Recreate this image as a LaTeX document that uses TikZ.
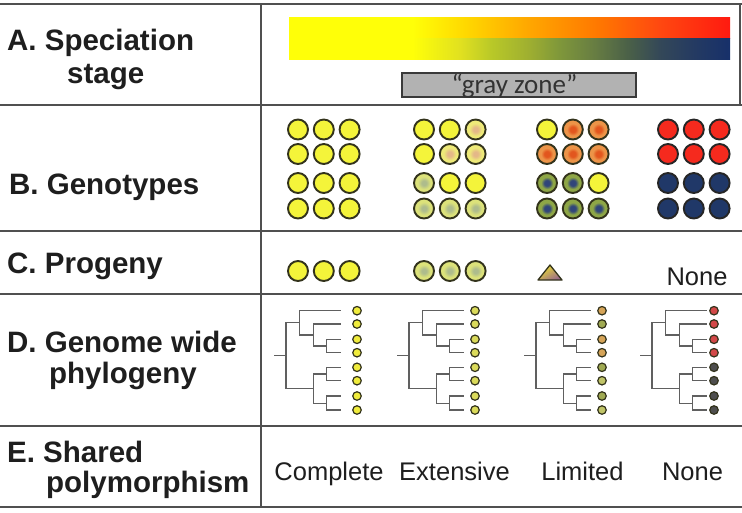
\documentclass[tikz,border=0pt]{standalone}
\usepackage{fontspec}
\setmainfont{Liberation Sans}
\newfontfamily\gzfont{Carlito}
\definecolor{gridc}{HTML}{505050}
\definecolor{txt}{HTML}{1E1E1E}
\definecolor{yel}{HTML}{F4F43A}
\definecolor{barY}{HTML}{FFFF08}
\definecolor{olv}{HTML}{33331C}
\definecolor{redc}{HTML}{F52A1E}
\definecolor{navy}{HTML}{203868}
\definecolor{orR}{HTML}{EC9448}
\definecolor{orC}{HTML}{E2561E}
\definecolor{grR}{HTML}{8EA646}
\definecolor{grC}{HTML}{30457A}
\definecolor{poR}{HTML}{EEEA78}
\definecolor{poC}{HTML}{E4B888}
\definecolor{pgR}{HTML}{DCE27A}
\definecolor{pgC}{HTML}{AEBC8C}
\definecolor{treec}{HTML}{606060}
\definecolor{gzfill}{HTML}{B2B2B2}
\definecolor{gzdraw}{HTML}{3A3A3A}
\definecolor{triY}{HTML}{ECE030}
\definecolor{triM}{HTML}{9A6A8C}
% bar colours
\definecolor{bt1}{HTML}{FFD800}
\definecolor{bt2}{HTML}{FFA800}
\definecolor{bt3}{HTML}{FF7800}
\definecolor{bt4}{HTML}{FF4810}
\definecolor{bt5}{HTML}{FF1A10}
\definecolor{bb1}{HTML}{E0E020}
\definecolor{bb2}{HTML}{B8C828}
\definecolor{bb3}{HTML}{A0B030}
\definecolor{bb4}{HTML}{80983A}
\definecolor{bb5}{HTML}{687E42}
\definecolor{bb6}{HTML}{4A6048}
\definecolor{bb7}{HTML}{344858}
\definecolor{bb8}{HTML}{243A62}
\definecolor{bb9}{HTML}{17306A}
% tree leaf colours
\definecolor{lY}{HTML}{F0EC3C}
\definecolor{lP}{HTML}{DADA5A}
\definecolor{lO}{HTML}{D6A458}
\definecolor{lG}{HTML}{A0AA52}
\definecolor{lL}{HTML}{C0C468}
\definecolor{lR}{HTML}{D24848}
\definecolor{lK}{HTML}{4E4E4E}
\pgfdeclarehorizontalshading{barTop}{100bp}{color(0bp)=(barY); color(39bp)=(barY); color(45bp)=(bt1); color(52bp)=(bt2); color(60bp)=(bt3); color(67bp)=(bt4); color(75bp)=(bt5); color(100bp)=(bt5)}
\pgfdeclarehorizontalshading{barBot}{100bp}{color(0bp)=(barY); color(39bp)=(barY); color(44.5bp)=(bb1); color(48bp)=(bb2); color(52bp)=(bb3); color(55.5bp)=(bb4); color(59.5bp)=(bb5); color(63.5bp)=(bb6); color(67bp)=(bb7); color(71bp)=(bb8); color(75bp)=(bb9); color(100bp)=(bb9)}
\pgfdeclareradialshading{dotOR}{\pgfpointorigin}{color(0bp)=(orC); color(7bp)=(orC); color(15bp)=(orR); color(50bp)=(orR)}
\pgfdeclareradialshading{dotGR}{\pgfpointorigin}{color(0bp)=(grC); color(7bp)=(grC); color(15bp)=(grR); color(50bp)=(grR)}
\pgfdeclareradialshading{dotPO}{\pgfpointorigin}{color(0bp)=(poC); color(6bp)=(poC); color(16bp)=(poR); color(50bp)=(poR)}
\pgfdeclareradialshading{dotPG}{\pgfpointorigin}{color(0bp)=(pgC); color(6bp)=(pgC); color(16bp)=(pgR); color(50bp)=(pgR)}
\tikzset{
  gridline/.style={line width=2pt, draw=gridc},
  lab/.style={font=\bfseries\fontsize{29.5}{31}\selectfont, text=txt, inner sep=0pt, anchor=base west},
  val/.style={font=\fontsize{25.5}{27}\selectfont, text=txt, inner sep=0pt, anchor=base},
  geno/.style={circle, minimum size=20pt, inner sep=0pt, line width=1.9pt, draw=olv},
  gY/.style={fill=yel},
  gRD/.style={fill=redc, draw=black!85},
  gNV/.style={fill=navy, draw=black!85},
  gOR/.style={shade, shading=dotOR},
  gGR/.style={shade, shading=dotGR},
  gPO/.style={shade, shading=dotPO},
  gPG/.style={shade, shading=dotPG},
  treeline/.style={line width=1.5pt, draw=treec, line cap=rect},
  leaf/.style={circle, minimum size=8.5pt, inner sep=0pt, line width=1.2pt, draw=olv},
}
\def\leafys{{310.7,324,339.3,352.7,367.3,380.7,396,410}}
\def\gys{{129.5,154,183,208.5}}
\newcommand{\genocol}[3]{%
  \foreach \s [count=\k from 0] in {#3} {
    \pgfmathtruncatemacro\rr{floor(\k/3)}
    \pgfmathtruncatemacro\cc{mod(\k,3)}
    \pgfmathsetmacro\yy{\gys[\rr]}
    \pgfmathsetmacro\xx{#1+\cc*25.8}
    \node[geno,\s] (#2-\k) at (\xx,\yy) {};
  }}
\newcommand{\phylo}[4]{%
  \begin{scope}[shift={(#1,0)}]
    \draw[treeline] (0,355.6) -- (11,355.6);
    \draw[treeline] (11,322.5) -- (11,388.7);
    \draw[treeline] (11,322.5) -- (24.3,322.5);
    \draw[treeline] (24.3,310.7) -- (24.3,335);
    \draw[treeline] (24.3,310.7) -- (65,310.7);
    \draw[treeline] (24.3,335) -- (38.3,335);
    \draw[treeline] (38.3,324) -- (38.3,346);
    \draw[treeline] (38.3,324) -- (65,324);
    \draw[treeline] (38.3,346) -- (51.7,346);
    \draw[treeline] (51.7,339.3) -- (51.7,352.7);
    \draw[treeline] (51.7,339.3) -- (65,339.3);
    \draw[treeline] (51.7,352.7) -- (65,352.7);
    \draw[treeline] (11,388.7) -- (38.3,388.7);
    \draw[treeline] (38.3,374) -- (38.3,403.3);
    \draw[treeline] (38.3,374) -- (51.7,374);
    \draw[treeline] (51.7,367.3) -- (51.7,380.7);
    \draw[treeline] (51.7,367.3) -- (65,367.3);
    \draw[treeline] (51.7,380.7) -- (65,380.7);
    \draw[treeline] (38.3,403.3) -- (51.7,403.3);
    \draw[treeline] (51.7,396) -- (51.7,410);
    \draw[treeline] (51.7,396) -- (65,396);
    \draw[treeline] (51.7,410) -- (65,410);
    \foreach \c [count=\i] in {#4} {
      \pgfmathsetmacro\yy{\leafys[\i-1]}
      \node[leaf, fill=\c] (#3-\i) at (#2,\yy) {};
    }
  \end{scope}}
\begin{document}
\begin{tikzpicture}[x=1pt, y=-1pt]
\useasboundingbox (0,0) rectangle (742,512);
\fill[white] (0,0) rectangle (742,512);
% grid
\foreach \yy in {4,104.5,231,293.5,426,507}
  \draw[gridline] (0,\yy) -- (742,\yy);
\draw[gridline] (261,4) -- (261,507);
\draw[gridline] (740,4) -- (740,104.5);
% left labels
\node[lab] (la1) at (7,50) {A. Speciation};
\node[lab] (la2) at (67,83) {stage};
\node[lab] (lb) at (9,194.5) {B. Genotypes};
\node[lab] (lc) at (7,273) {C. Progeny};
\node[lab] (ld1) at (7,352) {D. Genome wide};
\node[lab] (ld2) at (49,383) {phylogeny};
\node[lab] (le1) at (7,462) {E. Shared};
\node[lab] (le2) at (46,492) {polymorphism};
% A: gradient bar and gray zone
\shade[shading=barTop] (289,17) rectangle (730,38.5);
\shade[shading=barBot] (289,38) rectangle (730,59);
\node[draw=gzdraw, fill=gzfill, line width=1.3pt, minimum width=234pt, minimum height=24pt, inner sep=0pt] (gzbox) at (519,85) {};
\node[font=\gzfont\fontsize{27}{28}\selectfont, text=black!80, inner sep=0pt, anchor=base] (gztext) at (514.5,93) {“gray zone”};
% B: genotypes
\genocol{298}{g1}{gY,gY,gY,gY,gY,gY,gY,gY,gY,gY,gY,gY}
\genocol{424}{g2}{gY,gY,gPO,gY,gPO,gPO,gPG,gY,gY,gPG,gPG,gPG}
\genocol{547}{g3}{gY,gOR,gOR,gOR,gOR,gOR,gGR,gGR,gY,gGR,gGR,gGR}
\genocol{668}{g4}{gRD,gRD,gRD,gRD,gRD,gRD,gNV,gNV,gNV,gNV,gNV,gNV}
% C: progeny
\foreach \x [count=\i] in {298,323.8,349.6}
  \node[geno,gY] (p1-\i) at (\x,271) {};
\foreach \x [count=\i] in {424,449.8,475.6}
  \node[geno,gPG] (p2-\i) at (\x,271) {};
\shadedraw[left color=triY, right color=triM, shading angle=30, draw=olv, line width=1.3pt, line join=round] (550,265) -- (562,280) -- (538,280) -- cycle;
\node[val] (cnone) at (697,285) {None};
% D: phylogenies
\phylo{275}{82}{t1}{lY,lY,lY,lY,lY,lY,lY,lY}
\phylo{398}{77}{t2}{lP,lP,lP,lP,lP,lP,lP,lP}
\phylo{525}{77}{t3}{lO,lG,lO,lO,lG,lL,lG,lL}
\phylo{641}{73}{t4}{lR,lR,lR,lR,lK,lK,lK,lK}
% E: shared polymorphism
\node[val] (e1) at (329,480) {Complete};
\node[val] (e2) at (454.5,480) {Extensive};
\node[val] (e3) at (582.5,480) {Limited};
\node[val] (e4) at (692.5,480) {None};
\end{tikzpicture}
\end{document}
